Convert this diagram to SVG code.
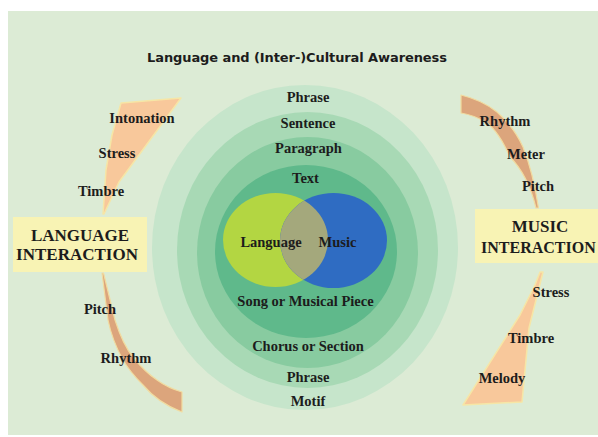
<svg xmlns="http://www.w3.org/2000/svg" width="598" height="437" viewBox="0 0 598 437">
<defs>
<style>
.t{font-family:"Liberation Serif","Times New Roman",serif;font-weight:bold;font-size:14.5px;fill:#1c1c1c;text-anchor:middle}
.big{font-size:17px}
.title{font-family:"DejaVu Sans",Verdana,sans-serif;font-weight:bold;font-size:13px;fill:#1c1c1c;text-anchor:middle}
.peach{fill:#f8c89b;stroke:#f6e6a6;stroke-width:1.5;stroke-linejoin:round}
.brown{fill:#dca57c;stroke:#f1dca0;stroke-width:1.2;stroke-linejoin:round}
.box{fill:#f8f3b4}
</style>
<clipPath id="blueClip"><ellipse cx="333.5" cy="240.5" rx="53.5" ry="47.5"/></clipPath>
</defs>
<rect x="0" y="0" width="598" height="437" fill="#ffffff"/>
<rect x="8" y="11" width="590" height="424" fill="#dcebd5"/>
<text class="title" x="297" y="62" textLength="300">Language and (Inter-)Cultural Awareness</text>

<g id="rings">
<ellipse id="ring-outer" cx="305" cy="247.5" rx="153" ry="162.5" fill="#c6e5cb"/>
<ellipse id="ring-2" cx="307.5" cy="250" rx="130.5" ry="138" fill="#a8d9b5"/>
<ellipse id="ring-3" cx="307.5" cy="252.5" rx="110.5" ry="115.5" fill="#88cba0"/>
<ellipse id="ring-4" cx="306" cy="251.5" rx="91" ry="86.5" fill="#5fb98b"/>
</g>
<g id="venn">
<ellipse id="language-circle" cx="275.5" cy="240" rx="52.5" ry="47" fill="#b3d642"/>
<ellipse id="music-circle" cx="333.5" cy="240.5" rx="53.5" ry="47.5" fill="#2f6cc2"/>
<ellipse cx="275.5" cy="240" rx="52.5" ry="47" fill="#a4a87c" clip-path="url(#blueClip)"/>
<text class="t" x="271" y="247">Language</text>
<text class="t" x="337.5" y="247">Music</text>
</g>
<g id="ring-labels">
<text class="t" x="308" y="102">Phrase</text>
<text class="t" x="308" y="128">Sentence</text>
<text class="t" x="308.5" y="153">Paragraph</text>
<text class="t" x="305.5" y="183">Text</text>
<text class="t" x="305.5" y="306">Song or Musical Piece</text>
<text class="t" x="308" y="351">Chorus or Section</text>
<text class="t" x="308" y="382">Phrase</text>
<text class="t" x="308" y="406">Motif</text>
</g>

<g id="connectors">
<path id="lang-top-arrow" class="peach" d="M121,103 L181,98 L119,182 L104,214 L103,214 L106,170 L112,135 Z"/>
<path id="lang-bottom-arrow" class="brown" d="M102,273 L103.5,273 L115,320 Q123,345 133,357 Q145,372 157,380 Q168,388 182,392 L182,412 Q158,403 143,385 Q130,372 123,360 Q112,340 108,320 Z"/>
<path id="music-top-arrow" class="brown" d="M461,95 Q482,100 497,112 Q514,127 523,147 Q533,172 538.5,208 L536,208 Q528,175 510,157 Q499,132 487,123 Q474,115 461,113 Z"/>
<path id="music-bottom-arrow" class="peach" d="M540,272 L543,272 L529,328 L522,402 L463,405 L520,315 L535,285 Z"/>
</g>

<g id="language-interaction">
<rect class="box" x="13" y="217" width="134" height="55"/>
<text class="t big" x="80" y="241">LANGUAGE</text>
<text class="t big" x="77" y="260">INTERACTION</text>
</g>
<g id="music-interaction">
<rect class="box" x="475" y="209" width="123" height="54"/>
<text class="t big" x="540" y="232">MUSIC</text>
<text class="t big" x="481" y="253" style="text-anchor:start;font-size:16px">INTERACTION</text>
</g>
<g id="language-features">
<text class="t" x="142" y="123">Intonation</text>
<text class="t" x="117" y="158">Stress</text>
<text class="t" x="101" y="196">Timbre</text>
<text class="t" x="100" y="314">Pitch</text>
<text class="t" x="126" y="363">Rhythm</text>
</g>
<g id="music-features">
<text class="t" x="505" y="126">Rhythm</text>
<text class="t" x="526" y="159">Meter</text>
<text class="t" x="538" y="191">Pitch</text>
<text class="t" x="551" y="297">Stress</text>
<text class="t" x="531" y="343">Timbre</text>
<text class="t" x="502" y="383">Melody</text>
</g>
</svg>
